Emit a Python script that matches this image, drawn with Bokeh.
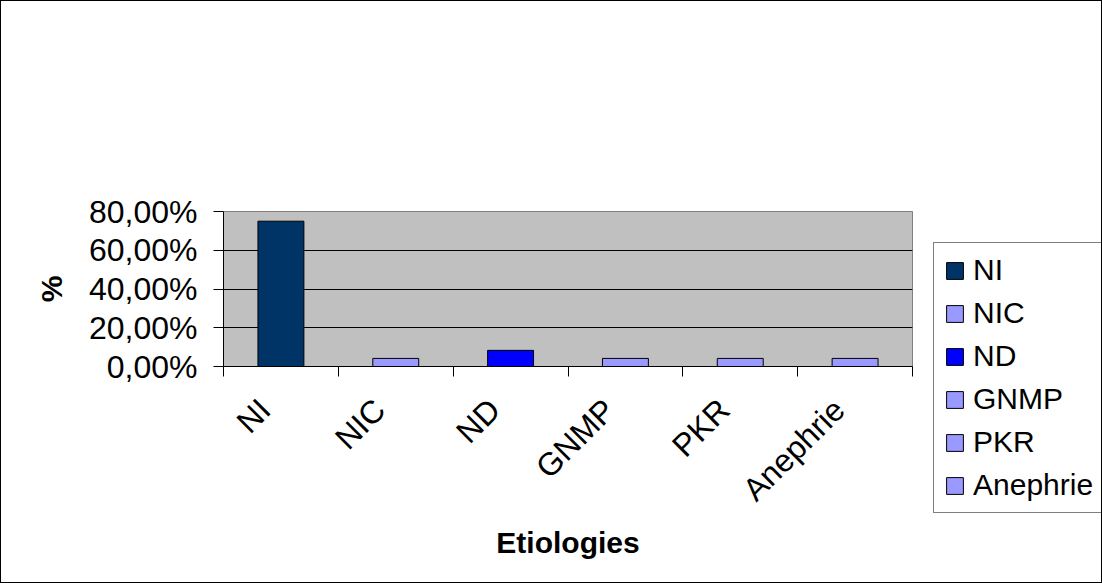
from bokeh.plotting import figure
from bokeh.layouts import row, column
from bokeh.models import (Range1d, FixedTicker, Legend, LegendItem, ColumnDataSource)
from bokeh.embed import file_html
from bokeh.resources import INLINE
from math import pi

# Share of each etiology (percent)
categories = ["NI", "NIC", "ND", "GNMP", "PKR", "Anephrie"]
percent = [75.0, 4.17, 8.33, 4.17, 4.17, 4.17]
bar_colors = ["#003366", "#9999FF", "#0000FF", "#9999FF", "#9999FF", "#9999FF"]

y_ticks = [0, 20, 40, 60, 80]
y_tick_labels = ["0,00%", "20,00%", "40,00%", "60,00%", "80,00%"]

FONT = "Liberation Sans"

positions = [i + 0.5 for i in range(len(categories))]
# rotated labels end a little left of each bar's centre
label_positions = [i + 0.36 for i in range(len(categories))]
src = ColumnDataSource(dict(x=positions, top=percent, color=bar_colors, cat=categories))

p = figure(width=932, height=581, output_backend="svg", toolbar_location=None,
           x_range=Range1d(0, len(categories)), y_range=Range1d(0, 80),
           min_border_left=222, min_border_right=21, min_border_top=210,
           min_border_bottom=216)

p.background_fill_color = "#C0C0C0"
p.border_fill_color = "white"
p.outline_line_color = "#808080"
p.outline_line_width = 1

p.vbar(x="x", top="top", width=0.4, fill_color="color", line_color="black",
       line_width=1, source=src)

# y axis
p.yaxis.ticker = FixedTicker(ticks=y_ticks)
p.yaxis.major_label_overrides = {t: l for t, l in zip(y_ticks, y_tick_labels)}
p.yaxis.major_tick_in = 0
p.yaxis.major_tick_out = 10
p.yaxis.minor_tick_line_color = None
p.yaxis.axis_line_color = "black"
p.yaxis.major_tick_line_color = "black"
p.yaxis.major_label_text_font = FONT
p.yaxis.major_label_text_font_size = "32px"
p.yaxis.major_label_text_color = "black"
p.yaxis.major_label_standoff = 16
p.yaxis.axis_label = "%"
p.yaxis.axis_label_text_font = FONT
p.yaxis.axis_label_text_font_size = "30px"
p.yaxis.axis_label_text_font_style = "bold"
p.yaxis.axis_label_text_color = "black"
p.yaxis.axis_label_standoff = 18

# x axis: labels near category centres, ticks on category boundaries
p.xaxis.ticker = FixedTicker(ticks=label_positions, minor_ticks=list(range(len(categories) + 1)))
p.xaxis.major_label_overrides = {x: c for x, c in zip(label_positions, categories)}
p.xaxis.major_tick_in = 0
p.xaxis.major_tick_out = 0
p.xaxis.minor_tick_in = 0
p.xaxis.minor_tick_out = 10
p.xaxis.minor_tick_line_color = "black"
p.xaxis.axis_line_color = "black"
p.xaxis.major_label_orientation = pi / 4
p.xaxis.major_label_text_font = FONT
p.xaxis.major_label_text_font_size = "32px"
p.xaxis.major_label_text_color = "black"
p.xaxis.major_label_standoff = 28
p.xaxis.axis_label = "Etiologies"
p.xaxis.axis_label_text_font = FONT
p.xaxis.axis_label_text_font_size = "30px"
p.xaxis.axis_label_text_font_style = "bold"
p.xaxis.axis_label_text_color = "black"
p.xaxis.axis_label_standoff = 2

p.xgrid.grid_line_color = None
p.ygrid.ticker = FixedTicker(ticks=y_ticks)
p.ygrid.grid_line_color = "black"
p.ygrid.grid_line_width = 1

# Legend panel: same bars drawn outside its visible range, only the legend shows
lp = figure(width=168, height=581, output_backend="svg", toolbar_location=None,
            x_range=Range1d(-10, -9), y_range=Range1d(0, 80),
            x_axis_location=None, y_axis_location=None, min_border=0)
lp.outline_line_color = None
lp.grid.grid_line_color = None
lr = lp.vbar(x="x", top="top", width=0.4, fill_color="color", line_color="black",
             line_width=1, source=src)

items = [LegendItem(label=c, renderers=[lr], index=i) for i, c in enumerate(categories)]
legend = Legend(items=items, location=(0, 69),
                label_text_font=FONT, label_text_font_size="30px", label_text_color="black",
                glyph_width=21, glyph_height=21, label_standoff=8,
                padding=10, spacing=9, margin=0,
                border_line_color="black", border_line_width=1,
                background_fill_color="white", background_fill_alpha=1)
lp.add_layout(legend, "center")

layout = row(p, column(lp, spacing=0), spacing=0, styles={"border": "1px solid black"})

open("out.html", "w").write(file_html(layout, INLINE))
